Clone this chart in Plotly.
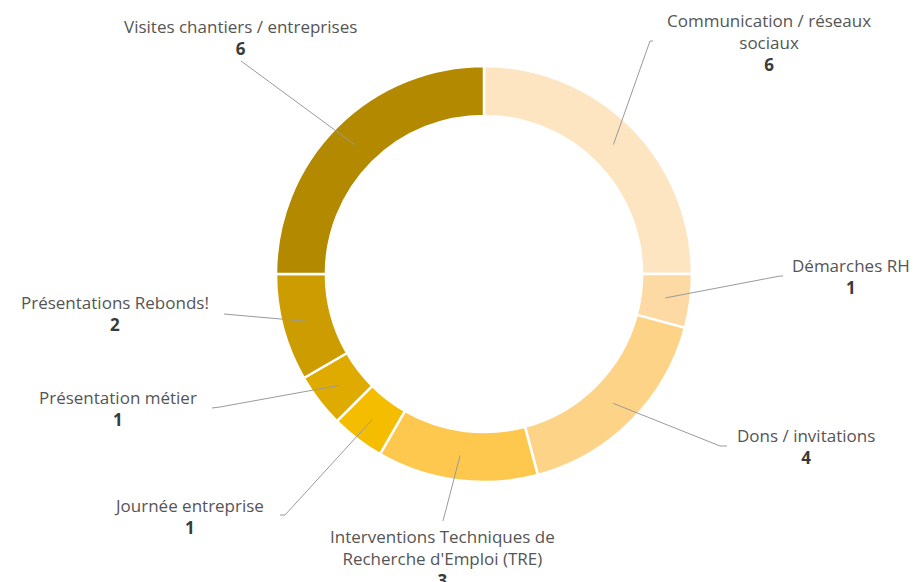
import math
import plotly.graph_objects as go

# Données
labels = [
    "Communication / réseaux<br>sociaux",
    "Démarches RH",
    "Dons / invitations",
    "Interventions Techniques de<br>Recherche d'Emploi (TRE)",
    "Journée entreprise",
    "Présentation métier",
    "Présentations Rebonds!",
    "Visites chantiers / entreprises",
]
values = [6, 1, 4, 3, 1, 1, 2, 6]
colors = ["#FDE5C2", "#FDDAA4", "#FDD487", "#FDC84D",
          "#F4BD00", "#E0AB00", "#CC9C00", "#B38900"]

W, H = 920, 582
cx, cy, R = 484, 274, 208
hole = 0.76

# position des étiquettes (centre x, haut y) et coude des lignes de rappel, en pixels
label_pos = [(769, 7), (851, 252), (806, 422), (442, 523),
             (189, 492), (118, 384), (115, 289), (240, 13)]
elbows = [[(650, 41), (653, 41)], [(780, 276), (783, 276)], [(720, 446), (727, 446)],
          [(443, 521)], [(285, 515), (280, 515)], [(220, 407), (212, 408)],
          [(224, 314)], [(241, 61)]]


def px(x, y):
    return x / W, 1 - y / H


fig = go.Figure()
x0, _ = px(cx - R, 0)
x1, _ = px(cx + R, 0)
_, y0 = px(0, cy + R)
_, y1 = px(0, cy - R)
fig.add_trace(go.Pie(
    labels=labels, values=values, sort=False, direction="clockwise", rotation=0,
    hole=hole, textinfo="none", hoverinfo="label+value",
    marker=dict(colors=colors, line=dict(color="white", width=2.5)),
    domain=dict(x=[x0, x1], y=[y0, y1]), showlegend=False,
))

total = sum(values)
r_mid = R * (1 + hole) / 2
cum = 0
shapes = []
annotations = []
for lab, v, (lx, ly), elb in zip(labels, values, label_pos, elbows):
    a = math.radians((cum + v / 2) / total * 360)
    cum += v
    sx, sy = cx + r_mid * math.sin(a), cy - r_mid * math.cos(a)
    pts = [(sx, sy)] + elb
    path = "M " + " L ".join(f"{px(x, y)[0]},{px(x, y)[1]}" for x, y in pts)
    shapes.append(dict(type="path", path=path, xref="paper", yref="paper",
                       line=dict(color="#9a9a9a", width=1)))
    ax, ay = px(lx, ly)
    annotations.append(dict(
        x=ax, y=ay, xref="paper", yref="paper", xanchor="center", yanchor="top",
        text=f"<span style='color:#555'>{lab}</span><br><b style='color:#3a3a3a'>{v}</b>",
        showarrow=False, align="center",
        font=dict(family="Open Sans", size=17, color="#555"),
    ))

fig.update_layout(
    width=W, height=H, margin=dict(l=0, r=0, t=0, b=0),
    paper_bgcolor="white", plot_bgcolor="white",
    shapes=shapes, annotations=annotations,
)

fig.write_html("out.html", config={"displayModeBar": False},
               post_script="document.body.style.margin='0';")
